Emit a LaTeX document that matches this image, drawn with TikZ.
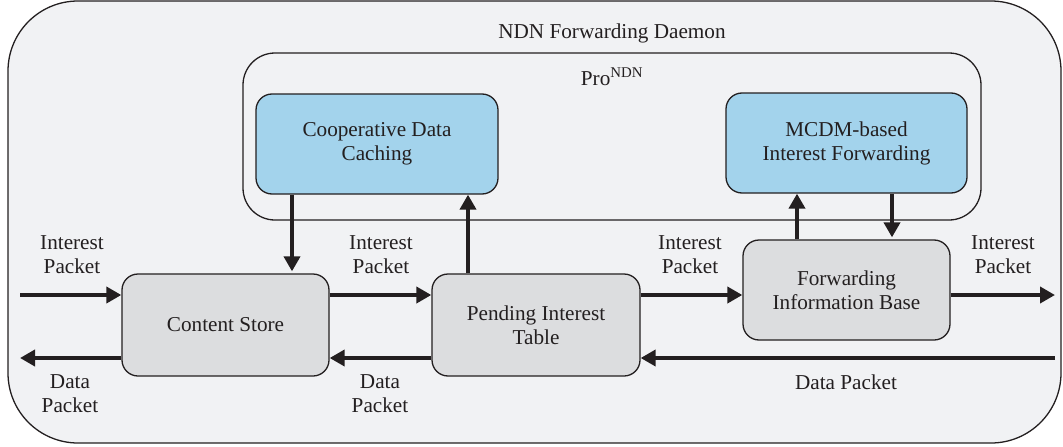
\documentclass[tikz,border=0pt]{standalone}
\usepackage{fontspec}
\setmainfont{Liberation Serif}
\usetikzlibrary{arrows.meta}
\definecolor{txt}{HTML}{231F20}
\definecolor{bgout}{HTML}{F1F2F4}
\definecolor{bluebox}{HTML}{A3D3EC}
\definecolor{graybox}{HTML}{DCDDDF}
\tikzset{
  every node/.style={text=txt, font=\fontsize{21.2}{24}\selectfont, align=center},
  blockb/.style={draw=txt, line width=1.3pt, fill=bluebox, rounded corners=16pt, inner sep=0pt},
  blockg/.style={draw=txt, line width=1.3pt, fill=graybox, rounded corners=16pt, inner sep=0pt},
  arr/.style={draw=txt, line width=4.5pt, -{Triangle[length=15pt,width=16pt]}},
  lbl/.style={inner sep=0pt}
}
\begin{document}
\begin{tikzpicture}[x=1pt,y=-1pt]
\useasboundingbox (0,0) rectangle (1063,447);
% outer daemon box
\draw[draw=txt, line width=1.3pt, fill=bgout, rounded corners=70pt] (8,1) rectangle (1061,443);
\node[lbl] (daemon) at (612,33) {NDN Forwarding Daemon};
% ProNDN box
\draw[draw=txt, line width=1.3pt, rounded corners=32pt] (243,53) rectangle (981,220);
\node[lbl] (pro) at (612,77) {Pro\textsuperscript{NDN}};
% blue boxes
\node[blockb, minimum width=242pt, minimum height=100pt] (cdc) at (377,144) {Cooperative Data\\Caching};
\node[blockb, minimum width=241pt, minimum height=100pt] (mcdm) at (846.5,143) {MCDM-based\\Interest Forwarding};
% gray boxes
\node[blockg, minimum width=207pt, minimum height=102pt] (cs) at (225.5,325) {Content Store};
\node[blockg, minimum width=208pt, minimum height=102pt] (pit) at (536,325) {Pending Interest\\Table};
\node[blockg, minimum width=207pt, minimum height=100pt] (fib) at (846.5,290) {Forwarding\\Information Base};
% helper coordinates
\coordinate (iy) at (0,295);
\coordinate (dy) at (0,358);
\coordinate (inL) at (20,295);
\coordinate (outL) at (20,358);
\coordinate (outR) at (1055,295);
\coordinate (inR) at (1055,358);
\coordinate (xa) at (292,0);
\coordinate (xb) at (468,0);
\coordinate (xc) at (797,0);
\coordinate (xd) at (892,0);
% interest flow
\draw[arr] (inL) -- (cs.west |- iy);
\draw[arr] (cs.east |- iy) -- (pit.west |- iy);
\draw[arr] (pit.east |- iy) -- (fib.west |- iy);
\draw[arr] (fib.east |- iy) -- (outR);
% data flow
\draw[arr] (inR) -- (pit.east |- dy);
\draw[arr] (pit.west |- dy) -- (cs.east |- dy);
\draw[arr] (cs.west |- dy) -- (outL);
% vertical
\draw[arr] (cdc.south -| xa) -- ([yshift=2pt]cs.north -| xa);
\draw[arr] (pit.north -| xb) -- (cdc.south -| xb);
\draw[arr] (fib.north -| xc) -- (mcdm.south -| xc);
\draw[arr] (mcdm.south -| xd) -- ([yshift=2pt]fib.north -| xd);
% labels
\node[lbl] (l1) at (72,255) {Interest\\Packet};
\node[lbl] (l2) at (70,394) {Data\\Packet};
\node[lbl] (l3) at (381,255) {Interest\\Packet};
\node[lbl] (l4) at (380,394) {Data\\Packet};
\node[lbl] (l5) at (690,255) {Interest\\Packet};
\node[lbl] (l6) at (1003,255) {Interest\\Packet};
\node[lbl] (l7) at (846,382) {Data Packet};
\end{tikzpicture}
\end{document}
